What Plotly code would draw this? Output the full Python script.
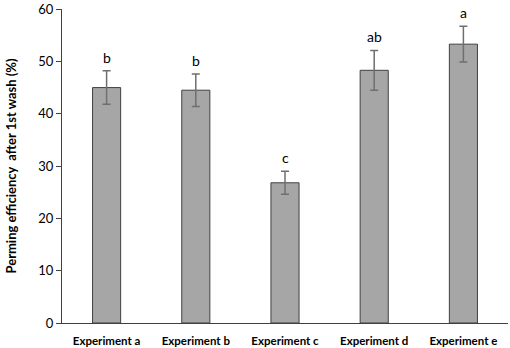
import plotly.graph_objects as go

categories = ["Experiment a", "Experiment b", "Experiment c", "Experiment d", "Experiment e"]
values = [45.0, 44.5, 26.8, 48.3, 53.3]
errors = [3.2, 3.1, 2.2, 3.8, 3.4]
letters = ["b", "b", "c", "ab", "a"]
y_ticks = [0, 10, 20, 30, 40, 50, 60]

FONT = "Lato, Open Sans, sans-serif"

fig = go.Figure()
fig.add_trace(go.Bar(
    x=categories, y=values,
    marker=dict(color="#a6a6a6", line=dict(color="#404040", width=1)),
    error_y=dict(type="data", array=errors, visible=True, color="#6f6f6f", thickness=1.5, width=4),
    width=0.315,
))
for c, v, e, t in zip(categories, values, errors, letters):
    fig.add_annotation(x=c, y=v + e, text=t, showarrow=False, yanchor="bottom", yshift=3,
                       font=dict(family=FONT, size=14, color="#000"))

fig.update_layout(
    width=510, height=348,
    margin=dict(l=62, r=2, t=9, b=25),
    paper_bgcolor="white", plot_bgcolor="white",
    showlegend=False,
    font=dict(family=FONT, color="#000"),
)
fig.update_xaxes(showline=True, linecolor="#404040", linewidth=1, ticks="",
                 tickfont=dict(size=11.5, family=FONT, weight="bold"), ticklabelstandoff=7,
                 showgrid=False, range=[-0.5, 4.5], automargin=False)
fig.update_yaxes(range=[0, 60.02], tickmode="array", tickvals=y_ticks, ticktext=[str(t) for t in y_ticks],
                 showline=True, linecolor="#404040", linewidth=1,
                 ticks="outside", ticklen=5, tickcolor="#404040", showgrid=False, zeroline=False,
                 tickfont=dict(size=13), automargin=False,
                 title=dict(text="<b>Perming efficiency  after 1st wash (%)</b>", font=dict(size=13), standoff=18))
fig.write_html("out.html", config={"displayModeBar": False},
               post_script="document.body.style.margin='0';")
